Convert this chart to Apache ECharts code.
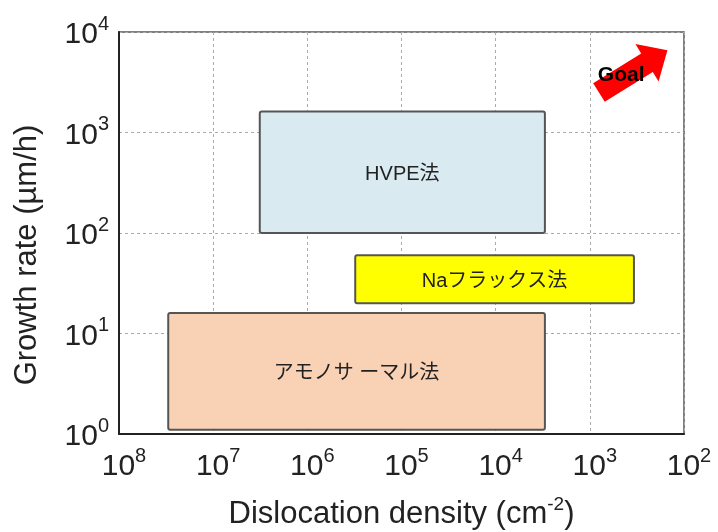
<!DOCTYPE html>
<html>
<head>
<meta charset="utf-8">
<script src="https://cdn.jsdelivr.net/npm/echarts@6/dist/echarts.min.js"></script>
<style>
  html, body { margin: 0; padding: 0; background: #ffffff; }
  #chart { width: 718px; height: 532px; }
</style>
</head>
<body>
<div id="chart"></div>
<script>
// Growth method regions: dislocation density range (cm^-2) vs growth rate range (µm/h)
const methods = ['HVPE法', 'Naフラックス法', 'アモノサ ーマル法'];
const densityHigh = [3.2e6, 3.1e5, 3.0e7];
const densityLow = [3.0e3, 3.4e2, 3.0e3];
const rateLow = [100, 20, 1.1];
const rateHigh = [1620, 60, 16];

// Goal arrow: from tail to tip (density, rate)
const goalLabel = 'Goal';
const goalTail = [800, 2500];
const goalTip = [150, 6600];

// Decade tick exponents
const xTickExponents = [8, 7, 6, 5, 4, 3, 2];
const yTickExponents = [0, 1, 2, 3, 4];

const fills = ['#d9eaf1', '#ffff00', '#f9d2b6'];
const latin = '"Liberation Sans", Arial, "Noto Sans CJK JP", sans-serif';

const regionData = methods.map((m, i) => [densityHigh[i], rateLow[i], densityLow[i], rateHigh[i], i]);

function powLabel(v, exps) {
  const e = Math.round(Math.log10(v));
  if (exps.indexOf(e) < 0) return '';
  return '{b|10}{s|' + e + '}';
}

const tickRich = {
  b: { fontSize: 30, fontFamily: latin, color: '#222', lineHeight: 36, verticalAlign: 'bottom' },
  s: { fontSize: 20, fontFamily: latin, color: '#222', lineHeight: 20, verticalAlign: 'top' }
};

const chart = echarts.init(document.getElementById('chart'), null, { renderer: 'canvas' });

chart.setOption({
  backgroundColor: '#ffffff',
  animation: false,
  grid: {
    left: 119, right: 34, top: 32, bottom: 98,
    outerBoundsMode: 'none', containLabel: false,
    show: true, borderColor: '#555', borderWidth: 1.5, backgroundColor: 'transparent'
  },
  xAxis: {
    type: 'log', logBase: 10, min: 1e2, max: 1e8, inverse: true,
    name: '{t|Dislocation density (cm}{u|-2}{t|)}',
    nameLocation: 'middle', nameGap: 61,
    nameTextStyle: {
      rich: {
        t: { fontSize: 31, fontFamily: latin, color: '#222', lineHeight: 35, verticalAlign: 'bottom' },
        u: { fontSize: 19, fontFamily: latin, color: '#222', lineHeight: 19, verticalAlign: 'top' }
      }
    },
    axisLine: { show: true, lineStyle: { color: '#222', width: 2 } },
    axisTick: { show: false },
    axisLabel: {
      margin: 12, padding: [0, 0, 0, 10],
      formatter: v => powLabel(v, xTickExponents), rich: tickRich
    },
    splitLine: { show: true, lineStyle: { color: '#aaa', type: [3, 3], width: 1 } },
    minorTick: { show: false }, minorSplitLine: { show: false }
  },
  yAxis: {
    type: 'log', logBase: 10, min: 1, max: 1e4,
    name: 'Growth rate (µm/h)',
    nameLocation: 'middle', nameGap: 76, nameRotate: 90,
    nameTextStyle: { fontSize: 31, fontFamily: latin, color: '#222', padding: [0, 44, 0, 0] },
    axisLine: { show: true, lineStyle: { color: '#222', width: 2 } },
    axisTick: { show: false },
    axisLabel: { margin: 10, formatter: v => powLabel(v, yTickExponents), rich: tickRich },
    splitLine: { show: true, lineStyle: { color: '#aaa', type: [3, 3], width: 1 } }
  },
  series: [
    {
      type: 'custom',
      coordinateSystem: 'cartesian2d',
      encode: { x: [0, 2], y: [1, 3] },
      data: regionData,
      z: 5,
      renderItem: function (params, api) {
        const a = api.coord([api.value(0), api.value(3)]);
        const b = api.coord([api.value(2), api.value(1)]);
        const idx = api.value(4);
        const x = Math.min(a[0], b[0]);
        const y = Math.min(a[1], b[1]);
        const w = Math.abs(b[0] - a[0]);
        const h = Math.abs(b[1] - a[1]);
        return {
          type: 'group',
          children: [
            {
              type: 'rect',
              shape: { x: x, y: y, width: w, height: h, r: 2 },
              style: { fill: fills[idx], stroke: '#555', lineWidth: 2 }
            },
            {
              type: 'text',
              style: {
                text: methods[idx], x: x + w / 2, y: y + h / 2 + 2,
                align: 'center', verticalAlign: 'middle',
                fontSize: 20, fontFamily: latin, fill: '#222'
              }
            }
          ]
        };
      }
    },
    {
      type: 'custom',
      coordinateSystem: 'cartesian2d',
      encode: { x: [0, 2], y: [1, 3] },
      data: [[goalTail[0], goalTail[1], goalTip[0], goalTip[1]]],
      z: 6,
      renderItem: function (params, api) {
        const t = api.coord([api.value(0), api.value(1)]);
        const p = api.coord([api.value(2), api.value(3)]);
        const dx = p[0] - t[0], dy = p[1] - t[1];
        const len = Math.sqrt(dx * dx + dy * dy);
        const ux = dx / len, uy = dy / len;
        const nx = -uy, ny = ux;
        const sw = 11, hw = 22, hl = 24;
        const bx = p[0] - ux * hl, by = p[1] - uy * hl;
        const pts = [
          [t[0] + nx * sw, t[1] + ny * sw],
          [bx + nx * sw, by + ny * sw],
          [bx + nx * hw, by + ny * hw],
          [p[0], p[1]],
          [bx - nx * hw, by - ny * hw],
          [bx - nx * sw, by - ny * sw],
          [t[0] - nx * sw, t[1] - ny * sw]
        ];
        const mx = (t[0] + p[0]) / 2, my = (t[1] + p[1]) / 2;
        return {
          type: 'group',
          children: [
            { type: 'polygon', shape: { points: pts }, style: { fill: '#ff0000' } },
            {
              type: 'text',
              style: {
                text: goalLabel, x: mx - 12, y: my + 4,
                align: 'center', verticalAlign: 'middle',
                fontSize: 21, fontWeight: 'bold', fontFamily: latin, fill: '#000'
              }
            }
          ]
        };
      }
    }
  ]
});
</script>
</body>
</html>
